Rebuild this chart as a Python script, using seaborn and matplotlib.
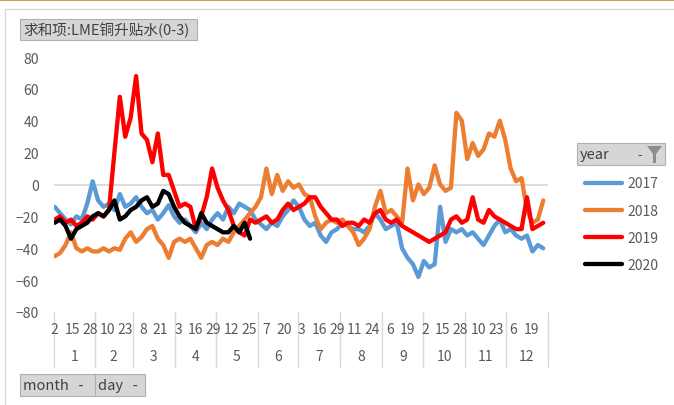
import numpy as np
import pandas as pd
import matplotlib.pyplot as plt
import matplotlib.patches as mpatches
import matplotlib.transforms as mtransforms
import seaborn as sns

# ---------------------------------------------------------
# Daten: LME Kupfer Contango/Backwardation (0-3), abgelesen alle 4 Tage ab 2. Jan.
# ---------------------------------------------------------
STEP = 4
years = ['2017', '2018', '2019', '2020']
colors = ['#5B9BD5', '#ED7D31', '#FF0000', '#000000']

v2017 = [-14, -18, -22, -25, -20, -22, -12, 2, -10, -14, -12, -16, -6, -14, -12, -8,
         -14, -18, -16, -22, -18, -13, -20, -24, -22, -26, -30, -24, -28, -22, -18, -22,
         -14, -18, -12, -14, -16, -22, -25, -28, -24, -26, -20, -16, -10, -14, -22, -26,
         -24, -32, -36, -30, -28, -24, -26, -28, -28, -30, -26, -18, -22, -28, -26, -24,
         -40, -46, -50, -58, -48, -52, -50, -14, -36, -28, -30, -28, -32, -30, -34, -38,
         -32, -26, -22, -30, -28, -32, -34, -32, -42, -38, -40]
v2018 = [-45, -43, -38, -30, -40, -42, -40, -42, -42, -40, -42, -40, -41, -34, -30, -36,
         -33, -28, -26, -34, -38, -46, -36, -34, -36, -34, -40, -46, -38, -36, -38, -34,
         -36, -30, -26, -22, -18, -14, -8, 10, -6, 6, -4, 2, -2, 0, -6, -8,
         -20, -28, -24, -22, -24, -22, -26, -30, -38, -34, -28, -14, -4, -18, -16, -20,
         -24, 10, -10, 0, -6, -2, 12, 0, -4, -2, 45, 40, 16, 26, 18, 22,
         32, 30, 40, 28, 10, 2, 4, -16, -24, -22, -10]
v2019 = [-22, -20, -24, -22, -26, -24, -20, -22, -18, -20, -16, 20, 55, 30, 42, 68,
         32, 28, 14, 32, 6, 6, -4, -14, -12, -14, -28, -20, -8, 10, -2, -10,
         -16, -26, -30, -32, -22, -24, -22, -20, -24, -22, -16, -12, -16, -14, -12, -8,
         -8, -14, -18, -22, -22, -26, -24, -24, -26, -22, -24, -18, -16, -22, -24, -22,
         -26, -28, -30, -32, -34, -36, -34, -32, -30, -22, -20, -24, -22, -8, -22, -24,
         -16, -20, -22, -24, -26, -28, -28, -8, -28, -26, -24]
v2020 = [-24, -22, -26, -34, -28, -26, -24, -20, -18, -20, -16, -10, -22, -20, -16, -14,
         -10, -8, -14, -12, -4, -6, -14, -20, -24, -26, -28, -18, -24, -26, -28, -30,
         -30, -26, -30, -24, -34]

series = dict(zip(years, [v2017, v2018, v2019, v2020]))
frames = []
for yr, vals in series.items():
    frames.append(pd.DataFrame({'day': np.arange(len(vals)) * STEP,
                                'value': vals, 'year': yr}))
df = pd.concat(frames, ignore_index=True)

# Kategorien der Achse: Kalendertage 2. Jan - 31. Dez
dates = pd.date_range('2019-01-02', '2019-12-31')
n_days = len(dates)
day_ticks = np.arange(0, n_days, 13)
day_labels = [str(dates[i].day) for i in day_ticks]
month_starts = [i for i in range(n_days) if dates[i].day == 1]
bounds = [-0.5] + [m - 0.5 for m in month_starts] + [n_days - 0.5]
month_labels = [str(m) for m in range(1, 13)]

# ---------------------------------------------------------
# Plot
# ---------------------------------------------------------
sns.set_style('white')
plt.rcParams['font.family'] = ['Noto Sans CJK SC', 'DejaVu Sans']
W, H = 674, 406
fig = plt.figure(figsize=(W / 100, H / 100), dpi=100)
ax = fig.add_axes([54 / W, 1 - 313 / H, 494 / W, 255 / H])

ax.axhline(0, color='#d9d9d9', lw=1.3, zorder=0)
sns.lineplot(data=df, x='day', y='value', hue='year', palette=dict(zip(years, colors)),
             linewidth=3.1, ax=ax, sort=True, solid_joinstyle='round')

ax.set_xlim(-0.5, n_days - 0.5)
ax.set_ylim(-80, 80)
ax.set_yticks(range(-80, 81, 20))
ax.tick_params(axis='y', length=0, labelsize=10, labelcolor='#595959', pad=11)
ax.set_xticks([])
ax.set_xlabel('')
ax.set_ylabel('')
for s in ax.spines.values():
    s.set_visible(False)

trans = mtransforms.blended_transform_factory(ax.transData, ax.transAxes)
for i, lab in zip(day_ticks, day_labels):
    ax.text(i, -0.067, lab, transform=trans, ha='center', va='center',
            fontsize=10, color='#595959')
for k, lab in enumerate(month_labels):
    ax.text((bounds[k] + bounds[k + 1]) / 2, -0.173, lab, transform=trans,
            ha='center', va='center', fontsize=10, color='#595959')
for b in bounds:
    ax.plot([b, b], [0, -0.216], transform=trans, color='#d9d9d9', lw=1, clip_on=False)

# Legende
handles, labels = ax.get_legend_handles_labels()
ax.legend(handles, labels, loc='upper left', bbox_to_anchor=(572 / W, 1 - 165 / H),
          bbox_transform=fig.transFigure, frameon=False, fontsize=10,
          labelcolor='#595959', handlelength=2.7, labelspacing=0.95, handletextpad=0.4)

# Rahmen und Pivot-Schaltflächen
fig.add_artist(plt.Line2D([0, 1], [1 - 1 / H, 1 - 1 / H], transform=fig.transFigure,
                          color='#c9a55c', lw=1.5))
fig.add_artist(mpatches.Rectangle((5 / W, -0.1), 1.2, 1 - 10 / H + 0.1, transform=fig.transFigure,
                                  fill=False, ec='#d9d9d9', lw=1))


def button(x, y, w, h, label, size=10.5):
    fig.add_artist(mpatches.Rectangle((x / W, 1 - (y + h) / H), w / W, h / H,
                                      transform=fig.transFigure, fc='#d6d6d6', ec='#b0b0b0', lw=0.8))
    fig.text((x + 3) / W, 1 - (y + h / 2) / H, label, ha='left', va='center',
             fontsize=size, color='#404040')


button(20, 20, 177, 21, '求和项:LME铜升贴水(0-3)')
button(577, 144, 88, 22, 'year')
fig.text(640 / W, 1 - 156 / H, '-', ha='center', va='center', fontsize=9, color='#404040')
fig.add_artist(mpatches.Polygon([[647 / W, 1 - 147 / H], [662 / W, 1 - 147 / H],
                                 [656 / W, 1 - 155 / H], [656 / W, 1 - 164 / H],
                                 [653 / W, 1 - 164 / H], [653 / W, 1 - 155 / H]],
                                closed=True, transform=fig.transFigure, fc='#8c8c8c', ec='none'))
button(20, 375, 75, 22, 'month   -')
button(95, 375, 50, 22, 'day   -')

plt.savefig('out.png', dpi=100)
